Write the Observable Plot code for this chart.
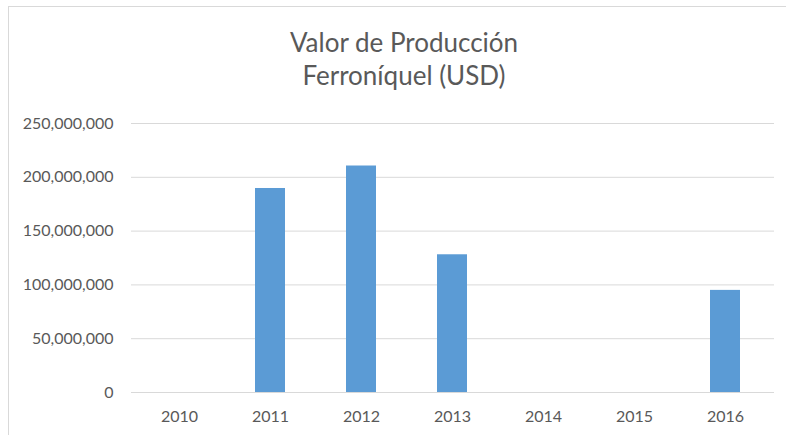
<!DOCTYPE html>
<html>
<head>
<meta charset="utf-8">
<script src="https://cdn.jsdelivr.net/npm/d3@7"></script>
<script src="https://cdn.jsdelivr.net/npm/@observablehq/plot@0.6"></script>
<style>
  html, body { margin: 0; padding: 0; background: #fff; }
  #wrap { position: relative; width: 786px; height: 435px; overflow: hidden; font-family: Lato, "Open Sans", sans-serif; }
  #frame { position: absolute; left: 8px; top: 6px; width: 800px; height: 460px; border: 1.5px solid #d9d9d9; box-sizing: border-box; }
  #title { position: absolute; left: 0; width: 808px; top: 26px; text-align: center; color: #595959; font-size: 26px; line-height: 33px; font-weight: 400; }
  #chart { position: absolute; left: 0; top: 0; }
</style>
</head>
<body>
<div id="wrap">
  <div id="frame"></div>
  <div id="title">Valor de Producción<br>Ferroníquel (USD)</div>
  <div id="chart"></div>
</div>
<script>
const years = ["2010", "2011", "2012", "2013", "2014", "2015", "2016"];
const values = [0, 189600000, 210500000, 128000000, 0, 0, 94900000];
const yTicks = [0, 50000000, 100000000, 150000000, 200000000, 250000000];

const data = years.map((y, i) => ({year: y, value: values[i]}));

const chart = Plot.plot({
  width: 786,
  height: 435,
  marginTop: 123,
  marginBottom: 43,
  marginLeft: 131,
  marginRight: 12,
  style: {fontFamily: "Lato, 'Open Sans', sans-serif", fontSize: "16px", color: "#595959", background: "transparent"},
  x: {domain: years, paddingInner: 0.67, paddingOuter: 0.335, label: null},
  y: {domain: [0, 250000000], ticks: yTicks, label: null},
  marks: [
    Plot.gridY(yTicks, {stroke: "#d9d9d9", strokeOpacity: 1, strokeWidth: 1}),
    Plot.barY(data, {x: "year", y: "value", fill: "#5b9bd5"}),
    Plot.axisY(yTicks, {tickSize: 0, tickPadding: 18, tickFormat: d3.format(","), fill: "#595959", fontSize: 16}),
    Plot.axisX({tickSize: 0, tickPadding: 18, fill: "#595959", fontSize: 16})
  ]
});
document.getElementById("chart").appendChild(chart);
</script>
</body>
</html>
